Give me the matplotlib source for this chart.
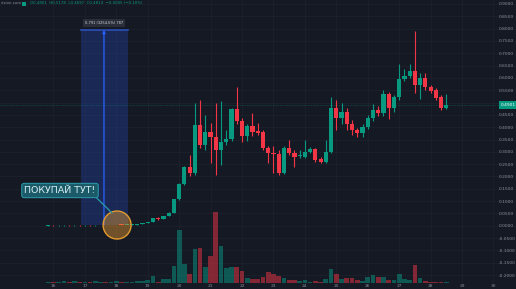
import matplotlib
matplotlib.use("Agg")
import matplotlib.pyplot as plt
import matplotlib.transforms as mtransforms
from matplotlib.patches import Ellipse, Rectangle
import numpy as np

# ---------------- data (4h candles) ----------------
opens = [
    0.0010, 0.0012, 0.0011, 0.0013, 0.0015, 0.0014, 0.0016, 0.0015, 0.0017, 0.0016, 0.0018, 0.0020, 0.0019, 0.0021, 0.0023, 0.0022,
    0.0030, 0.0050, 0.0080, 0.0110, 0.0152, 0.0315, 0.0270, 0.0396,
    0.0518, 0.1086, 0.1695, 0.2385, 0.2141, 0.4089, 0.3278, 0.3805,
    0.3602, 0.3074, 0.3399, 0.3521, 0.4738, 0.4251, 0.3643, 0.4048,
    0.3845, 0.3805, 0.3156, 0.2953, 0.2912, 0.2141, 0.3156, 0.2953,
    0.2825, 0.2790, 0.2993, 0.3115, 0.2709, 0.2588, 0.2993, 0.4779,
    0.4373, 0.4617, 0.4129, 0.3886, 0.3764, 0.4008, 0.4373, 0.4698,
    0.4576, 0.5347, 0.4779, 0.5225, 0.5956, 0.6078, 0.6281, 0.5712,
    0.5996, 0.5631, 0.5509, 0.5225, 0.4779]
closes = [
    0.0012, 0.0011, 0.0013, 0.0015, 0.0014, 0.0016, 0.0015, 0.0017, 0.0016, 0.0018, 0.0020, 0.0019, 0.0021, 0.0023, 0.0022, 0.0030,
    0.0050, 0.0080, 0.0110, 0.0150, 0.0315, 0.0270, 0.0396, 0.0518,
    0.1086, 0.1695, 0.2385, 0.2141, 0.4089, 0.3278, 0.3805, 0.3602,
    0.3074, 0.3399, 0.3521, 0.4738, 0.4251, 0.3643, 0.4048, 0.3805,
    0.3764, 0.3156, 0.2953, 0.2912, 0.2141, 0.3156, 0.2953, 0.2790,
    0.2831, 0.2993, 0.3115, 0.2669, 0.2588, 0.2993, 0.4779, 0.4373,
    0.4617, 0.4129, 0.3886, 0.3764, 0.4008, 0.4373, 0.4698, 0.4576,
    0.5347, 0.4779, 0.5225, 0.5956, 0.6078, 0.6281, 0.5712, 0.5996,
    0.5631, 0.5469, 0.5185, 0.4779, 0.4901]
highs = [
    0.0020, 0.0020, 0.0020, 0.0022, 0.0022, 0.0024, 0.0023, 0.0025, 0.0025, 0.0026, 0.0028, 0.0027, 0.0029, 0.0031, 0.0030, 0.0036,
    0.0058, 0.0088, 0.0118, 0.0160, 0.0330, 0.0340, 0.0410, 0.0540,
    0.1100, 0.1720, 0.2420, 0.2871, 0.4982, 0.5104, 0.4495, 0.4170,
    0.4982, 0.5063, 0.3886, 0.4779, 0.5631, 0.4373, 0.4129, 0.4576,
    0.4170, 0.3886, 0.3237, 0.3237, 0.3074, 0.3237, 0.3480, 0.3074,
    0.3074, 0.3480, 0.3196, 0.3156, 0.2790, 0.3480, 0.5225, 0.5104,
    0.4982, 0.4779, 0.4292, 0.3967, 0.4130, 0.4495, 0.4942, 0.4860,
    0.5509, 0.5428, 0.5306, 0.6565, 0.6362, 0.6565, 0.7904, 0.6199,
    0.6199, 0.5712, 0.5590, 0.5306, 0.5347]
lows = [
    0.0004, 0.0004, 0.0005, 0.0006, 0.0007, 0.0007, 0.0008, 0.0008, 0.0009, 0.0009, 0.0011, 0.0012, 0.0012, 0.0014, 0.0015, 0.0016,
    0.0026, 0.0045, 0.0074, 0.0104, 0.0145, 0.0250, 0.0262, 0.0385,
    0.0500, 0.1050, 0.1640, 0.2020, 0.2060, 0.3156, 0.3074, 0.2547,
    0.2060, 0.2466, 0.3278, 0.3440, 0.4129, 0.3399, 0.3440, 0.3643,
    0.3683, 0.3074, 0.2547, 0.2141, 0.2060, 0.2100, 0.2872, 0.2385,
    0.2750, 0.2750, 0.2953, 0.2588, 0.2547, 0.2547, 0.2953, 0.3886,
    0.4129, 0.3886, 0.3683, 0.3602, 0.3600, 0.3925, 0.4251, 0.4454,
    0.4454, 0.4333, 0.4617, 0.5104, 0.5875, 0.5996, 0.5388, 0.5144,
    0.5509, 0.5388, 0.5104, 0.4698, 0.4738]
volumes = [
    1.5, 1, 1, 2, 1.5, 2.5, 1, 1.5, 1, 2, 1.5, 1, 1.5, 2, 1.5, 1.5,
    1.5, 2, 2, 3, 7.5, 1.5, 4.5, 4.5,
    17.5, 53.5, 19.5, 9.5, 34.5, 35.5, 16.5, 27.5,
    71.5, 37.5, 15.5, 16.5, 16.5, 12.5, 5.5, 4.5,
    4.5, 6.5, 11.5, 9.5, 7.5, 5.5, 3.5, 3.5,
    2.5, 3.5, 1.5, 2.5, 1.5, 4.5, 14.5, 9.5,
    4.5, 5.5, 5.5, 3.5, 2.5, 6.5, 8.5, 6.5,
    6.5, 3.5, 3.5, 9.5, 4.5, 3.5, 18.5, 5.5,
    2.5, 1.5, 1.5, 1.5, 1.5]

day_ticks = [1, 7, 13, 19, 25, 31, 37, 43, 49, 55, 61, 67, 73, 79, 85]
day_labels = ["16", "17", "18", "19", "20", "21", "22", "23", "24", "25", "26", "27", "28", "29", "30"]
price_ticks = [round(-0.2 + 0.05 * k, 2) for k in range(23)]
last_price = closes[-1]

range_start, range_end = 6.26, 15.23      # measured range (candle index)
range_low, range_high = 0.0031, 0.7944
circle_x, circle_y = 13.15, 0.003

# ---------------- style ----------------
BG = "#151924"
GRID = "#1d212c"
UP = "#089981"
DOWN = "#f23645"
TXT = "#8a8e99"

fig = plt.figure(figsize=(5.16, 2.89), dpi=100)
fig.patch.set_facecolor(BG)
ax = fig.add_axes([0, 6 / 289, 1, 283 / 289])
ax.set_facecolor(BG)

x = np.arange(len(opens))
o = np.array(opens); c = np.array(closes); h = np.array(highs); l = np.array(lows)
up = c >= o
cols = np.where(up, UP, DOWN)

# volume (overlay)
ax2 = ax.twinx()
vcols = [(0.03, 0.60, 0.51, 0.5) if u else (0.95, 0.21, 0.27, 0.5) for u in up]
ax2.bar(x, volumes, width=0.9, color=vcols, zorder=1)
ax2.set_ylim(0, 283)
ax2.set_yticks([])
for s in ax2.spines.values():
    s.set_visible(False)

# candles
ax.vlines(x, l, h, colors=cols, lw=0.8, zorder=3)
body_bottom = np.minimum(o, c)
body_h = np.maximum(np.abs(c - o), 0.003)
ax.bar(x, body_h, bottom=body_bottom, width=0.8, color=cols, zorder=4, linewidth=0)

ax.set_xlim(-9.2, 89.3)
ax.set_ylim(-0.2323, 0.9162)

ax.set_xticks(day_ticks)
ax.set_xticklabels(day_labels)
ax.tick_params(axis="x", length=0, pad=0.5, labelsize=3.2, labelcolor=TXT)
ax.yaxis.tick_right()
ax.set_yticks(price_ticks)
ax.set_yticklabels(["" if abs(v - 0.5) < 1e-9 else f"{v:.4f}" for v in price_ticks])
ax.tick_params(axis="y", length=0, pad=-12.5, labelsize=3.2, labelcolor=TXT)
ax.grid(True, color=GRID, lw=0.6, zorder=0)
ax.set_axisbelow(True)
for s in ax.spines.values():
    s.set_visible(False)

# price range tool
ax.add_patch(Rectangle((range_start, range_low), range_end - range_start, range_high - range_low,
                       facecolor=(0.16, 0.38, 1.0, 0.22), edgecolor="none", zorder=2))
ax.plot([range_start, range_end], [range_high, range_high], color="#2a4fb8", lw=1.2, zorder=2)
mid = (range_start + range_end) / 2 - 0.1
ax.annotate("", xy=(mid, range_high), xytext=(mid, range_low),
            arrowprops=dict(arrowstyle="-|>", color="#2962ff", lw=0.9, mutation_scale=4, shrinkA=0, shrinkB=0),
            zorder=3)
ax.text(mid, range_high + 0.02, "0.791 (3254.6%) 787", ha="center", va="bottom", fontsize=2.6,
        color="#d1d4dc", bbox=dict(boxstyle="square,pad=0.5", fc="#2a2e39", ec="none"), zorder=6)

# orange circle
ax.add_patch(Ellipse((circle_x, circle_y), 28 / 5.24, 28 * 0.0040584,
                     facecolor=(0.94, 0.63, 0.19, 0.42), edgecolor="#e39a2e", lw=1.0, zorder=5))

# current price line + label
ax.axhline(last_price, color=UP, lw=0.5, ls=(0, (1, 1.5)), alpha=0.6, zorder=2)
trans = mtransforms.blended_transform_factory(ax.transAxes, ax.transData)
ax.text(0.999, last_price, f"{last_price:.4f}", transform=trans, ha="right", va="center", fontsize=3.2,
        color="white", bbox=dict(boxstyle="square,pad=0.35", fc=UP, ec="none"), zorder=7)

# callout
ax.annotate("ПОКУПАЙ ТУТ!", xy=(112, 289 - 213), xycoords="figure pixels",
            xytext=(60, 289 - 190.5), textcoords="figure pixels",
            ha="center", va="center", fontsize=6.8, color="#d6eef2",
            bbox=dict(boxstyle="round,pad=0.28,rounding_size=0.25", fc="#1b5a68", ec="#2a93a6", lw=0.8),
            arrowprops=dict(arrowstyle="-", color="#2a93a6", lw=1.0, relpos=(0.96, 0.1), shrinkA=0, shrinkB=0),
            zorder=8)

# header
fig.text(1 / 516, 1 - 3.5 / 289, "vision.com", fontsize=2.8, color=TXT, va="center", ha="left")
fig.patches.append(Rectangle((22 / 516, 1 - 6 / 289), 4 / 516, 4 / 289, transform=fig.transFigure,
                             facecolor=UP, edgecolor="none"))
fig.text(30 / 516, 1 - 3.5 / 289, "O0.4801  H0.5178  L0.4697  C0.4814  −0.0005 (−0.10%)",
         fontsize=2.8, color=UP, va="center", ha="left")

fig.savefig("out.png", dpi=100, facecolor=BG)
